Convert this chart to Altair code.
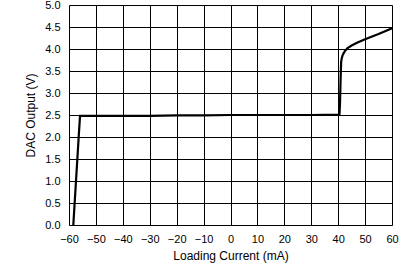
import altair as alt
import pandas as pd

current = [-58.4, -57.8, -57.0, -56.3, -55.9, -50, -40, -30, -20, -10, 0, 10, 20, 30, 40.0, 40.5,
           40.7, 40.9, 41.1, 41.3, 41.6, 42.0, 42.6, 43.5, 45.0, 47.0, 50.0, 55.0, 60.0]
voltage = [0.0, 0.6, 1.4, 2.1, 2.48, 2.48, 2.48, 2.48, 2.49, 2.49, 2.5, 2.5, 2.5, 2.5, 2.51, 2.52,
           2.8, 3.3, 3.7, 3.78, 3.85, 3.9, 3.96, 4.02, 4.08, 4.14, 4.22, 4.34, 4.47]

df = pd.DataFrame({"x": current, "y": voltage, "o": list(range(len(current)))})

font = "Liberation Sans"

line = alt.Chart(df).mark_line(color="black", strokeWidth=2.2, clip=True).encode(
    x=alt.X("x:Q", scale=alt.Scale(domain=[-60, 60], nice=False),
            axis=alt.Axis(title="Loading Current (mA)", values=list(range(-60, 61, 10)),
                          format="d", grid=True, gridColor="black", gridOpacity=1, gridWidth=1,
                          domain=False, ticks=False, labelPadding=8, labelFontSize=11,
                          labelColor="black", titleFontSize=12, titleFontWeight="normal",
                          titleColor="black", titlePadding=6, labelFont=font, titleFont=font,
                          labelOverlap=False, labelFlush=False)),
    y=alt.Y("y:Q", scale=alt.Scale(domain=[0, 5], nice=False),
            axis=alt.Axis(title="DAC Output (V)", values=[i * 0.5 for i in range(11)],
                          format=".1f", grid=True, gridColor="black", gridOpacity=1, gridWidth=1,
                          domain=False, ticks=False, labelPadding=9, labelFontSize=11,
                          labelColor="black", titleFontSize=12, titleFontWeight="normal",
                          titleColor="black", titlePadding=7, labelFont=font, titleFont=font,
                          labelOverlap=False, labelFlush=False)),
    order="o:Q",
)

chart = line.properties(
    width=323, height=220,
    autosize=alt.AutoSizeParams(type="none"),
    padding={"left": 69, "top": 5, "right": 15, "bottom": 42},
).configure_view(stroke="black", strokeWidth=2).configure(background="white")

chart.save("out.html", embed_options={"renderer": "svg", "actions": False})
